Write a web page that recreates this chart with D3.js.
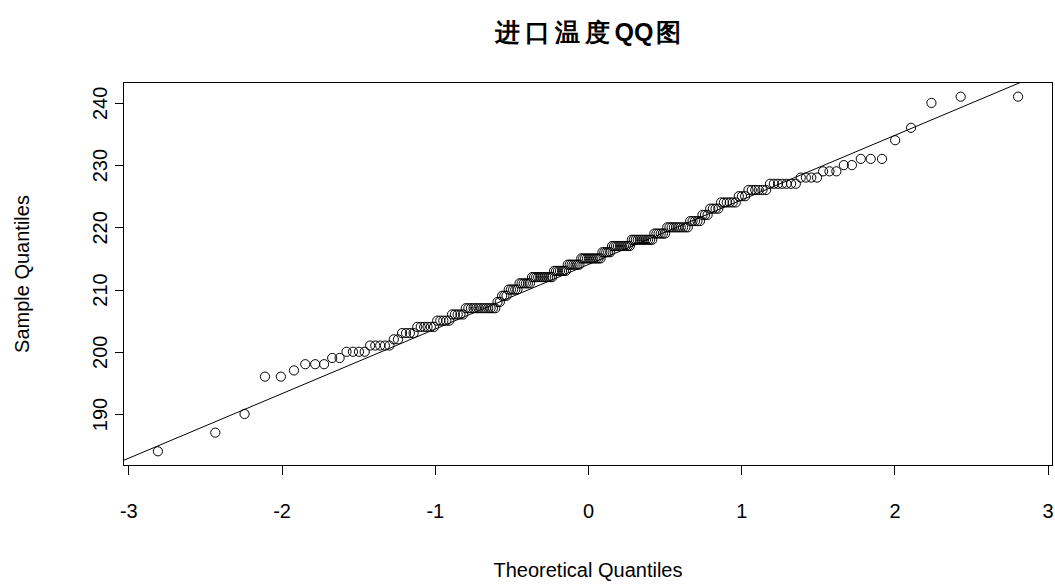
<!DOCTYPE html>
<meta charset="utf-8">
<style>
body{margin:0;background:#fff;}
svg text{font-family:"Liberation Sans",Arial,sans-serif;fill:#000;}
.title{font-weight:bold;font-size:25px;}
.axis text{font-size:20px;}
.axis path{display:none;}
.axis line{stroke:#000;shape-rendering:crispEdges;}
.lab{font-size:20px;}
</style>
<body>
<div id="qq"></div>
<script src="https://cdn.jsdelivr.net/npm/d3@7"></script>
<script>

// sorted sample values (levels) and how many observations sit on each
var levels = [184,187,190,196,197,198,199,200,201,202,203,204,205,206,207,208,209,210,211,212,213,214,215,216,217,218,219,220,221,222,223,224,225,226,227,228,229,230,231,234,236,240,241];
var counts = [  1,  1,  1,  2,  1,  3,  2,  4,  5,  2,  4,  6,  5,  5, 13,  2,  3,  5,  6, 11,  7,  7, 11,  5, 10, 11,  6, 10,  5,  3,  4,  6,  3,  6,  7,  4,  3,  2,  3,  1,  1,  1,  2];
var xTicks = [-3,-2,-1,0,1,2,3];
var yTicks = [190,200,210,220,230,240];

var sample = [];
levels.forEach(function(v,k){ for(var j=0;j<counts[k];j++) sample.push(v); });
var n = sample.length;

// inverse normal cdf (Acklam)
function qnorm(p){
  var a=[-39.69683028665376,220.9460984245205,-275.9285104469687,138.3577518672690,-30.66479806614716,2.506628277459239],
      b=[-54.47609879822406,161.5858368580409,-155.6989798598866,66.80131188771972,-13.28068155288572],
      c=[-0.007784894002430293,-0.3223964580411365,-2.400758277161838,-2.549732539343734,4.374664141464968,2.938163982698783],
      d=[0.007784695709041462,0.3224671290700398,2.445134137142996,3.754408661907416];
  var q,r;
  if(p<0.02425){ q=Math.sqrt(-2*Math.log(p));
    return (((((c[0]*q+c[1])*q+c[2])*q+c[3])*q+c[4])*q+c[5])/((((d[0]*q+d[1])*q+d[2])*q+d[3])*q+1); }
  if(p>1-0.02425){ q=Math.sqrt(-2*Math.log(1-p));
    return -(((((c[0]*q+c[1])*q+c[2])*q+c[3])*q+c[4])*q+c[5])/((((d[0]*q+d[1])*q+d[2])*q+d[3])*q+1); }
  q=p-0.5; r=q*q;
  return (((((a[0]*r+a[1])*r+a[2])*r+a[3])*r+a[4])*r+a[5])*q/(((((b[0]*r+b[1])*r+b[2])*r+b[3])*r+b[4])*r+1);
}

var off = n <= 10 ? 3/8 : 1/2;
var pts = sample.map(function(v,i){ return {t: qnorm((i+1-off)/(n+1-2*off)), s: v}; });

// reference line through the quartiles
var q1 = d3.quantile(sample,0.25), q3 = d3.quantile(sample,0.75);
var slope = (q3-q1)/(qnorm(0.75)-qnorm(0.25));
var intercept = q1 - slope*qnorm(0.25);

var W=1055, H=587, L=123.5, R=1052.5, T=82.5, B=465.5;
function padded(ext){ var dd=(ext[1]-ext[0])*0.04; return [ext[0]-dd, ext[1]+dd]; }

var x = d3.scaleLinear().domain(padded(d3.extent(pts,function(d){return d.t;}))).range([L,R]);
var y = d3.scaleLinear().domain(padded(d3.extent(sample))).range([B,T]);

var svg = d3.select("#qq").append("svg").attr("width",W).attr("height",H);

svg.append("clipPath").attr("id","clip").append("rect")
   .attr("x",L).attr("y",T).attr("width",R-L).attr("height",B-T);

var title = svg.append("text").attr("class","title")
   .attr("x",(L+R)/2).attr("y",41).attr("text-anchor","middle");
title.append("tspan").attr("letter-spacing","5px").text("进口温度");
title.append("tspan").text("QQ");
title.append("tspan").attr("dx",3).text("图");

// points
svg.append("g").selectAll("circle").data(pts).enter().append("circle")
   .attr("cx",function(d){return x(d.t);})
   .attr("cy",function(d){return y(d.s);})
   .attr("r",4.6)
   .attr("fill","none").attr("stroke","#000").attr("stroke-width",1);

// qqline
var xd = x.domain();
svg.append("line").attr("clip-path","url(#clip)")
   .attr("x1",x(xd[0])).attr("y1",y(intercept+slope*xd[0]))
   .attr("x2",x(xd[1])).attr("y2",y(intercept+slope*xd[1]))
   .attr("stroke","#000").attr("stroke-width",1);

// box
svg.append("rect").attr("x",L).attr("y",T).attr("width",R-L).attr("height",B-T)
   .attr("fill","none").attr("stroke","#000").attr("stroke-width",1);

var fmt = function(v){ return String(v); };

var gx = svg.append("g").attr("class","axis").attr("transform","translate(0,"+B+")")
   .call(d3.axisBottom(x).tickValues(xTicks).tickSize(9).tickFormat(fmt));
gx.selectAll("text").attr("dy",null).attr("y",52);

var gy = svg.append("g").attr("class","axis").attr("transform","translate("+L+",0)")
   .call(d3.axisLeft(y).tickValues(yTicks).tickSize(9).tickFormat(fmt));
gy.selectAll("text").attr("x",null).attr("dy",null)
   .attr("text-anchor","middle").attr("transform","translate(-17,0) rotate(-90)");

svg.append("text").attr("class","lab")
   .attr("x",(L+R)/2).attr("y",577).attr("text-anchor","middle")
   .text("Theoretical Quantiles");

svg.append("text").attr("class","lab")
   .attr("transform","translate(29,"+((T+B)/2)+") rotate(-90)")
   .attr("text-anchor","middle")
   .text("Sample Quantiles");

</script>
</body>
</html>
